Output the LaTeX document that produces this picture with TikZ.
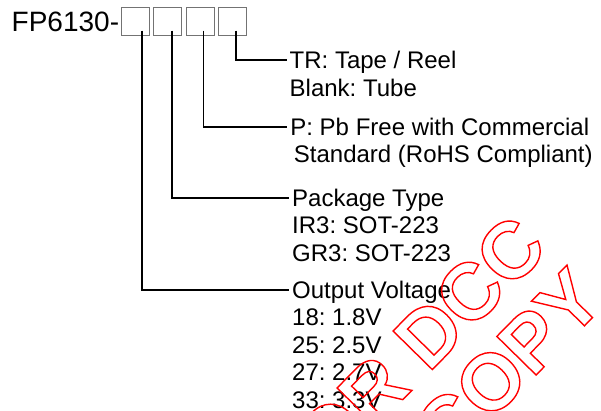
\documentclass[tikz,border=0pt]{standalone}
\usepackage{fontspec}
\setmainfont{Liberation Sans}
\usetikzlibrary{positioning}
\newcommand{\hollow}[1]{\special{pdf:literal direct 1 Tr 1.4 w}#1\special{pdf:literal direct 0 Tr}}
\tikzset{%
digit/.style={draw=black!55,line width=0.9pt,rectangle,minimum size=28pt,inner sep=0},
partno/.style={font=\fontsize{28}{32}\selectfont,inner sep=0,anchor=base west},
lead/.style={line width=1.6pt,shorten >=3pt},
field/.style={font=\fontsize{24}{27.4}\selectfont,inner sep=0,text height=17.2pt,text depth=0pt,anchor=west},
option/.style={font=\fontsize{24}{27.4}\selectfont,inner sep=0,below=27.4pt of #1,anchor=base west},
stamp/.style={font=\fontsize{80}{78}\selectfont\bfseries,text=red,inner sep=0,anchor=base west}
}
\frenchspacing
\begin{document}
\begin{tikzpicture}[x=1pt,y=1pt]
  \useasboundingbox (0,0) rectangle (601,-410);

  \node[partno] (fp) at (11.5,-31) {FP6130-};
  \node[digit] (b1) at (135.8,-21.2) {};
  \node[digit,right=3.2pt of b1] (b2) {};
  \node[digit,right=3.2pt of b2] (b3) {};
  \node[digit,right=3.2pt of b3] (b4) {};

  \node[field] (tr) at (289.5,-60) {TR: Tape / Reel};
  \node[option=tr.base west] (blank) {Blank: Tube};

  \node[field] (pb) at (290.2,-126.7) {P: Pb Free with Commercial};
  \node[option=pb.base west,xshift=3.5pt] (std) {Standard (RoHS Compliant)};

  \node[field] (pkg) at (292,-197.7) {Package Type};
  \node[option=pkg.base west] (ir3) {IR3: SOT-223};
  \node[option=ir3.base west] (gr3) {GR3: SOT-223};

  \node[field] (vout) at (292,-289.8) {Output Voltage};
  \node[option=vout.base west] (v18) {18: 1.8V};
  \node[option=v18.base west] (v25) {25: 2.5V};
  \node[option=v25.base west] (v27) {27: 2.7V};
  \node[option=v27.base west] (v33) {33: 3.3V};

  \draw[lead] ([xshift=3.9pt,yshift=5pt]b4.south) |- (tr.west);
  \draw[lead] ([xshift=3.3pt,yshift=5pt]b3.south) |- (pb.west);
  \draw[lead] ([xshift=3.8pt,yshift=5pt]b2.south) |- (pkg.west);
  \draw[lead] ([xshift=5.9pt,yshift=5pt]b1.south) |- (vout.west);

  \begin{scope}
    \clip (0,0) rectangle (601,-410);
    \begin{scope}[shift={(428.5,-373.5)},rotate=45.5,transform shape]
      \node[stamp] (forline) at (-191.1,0) {\hollow{FOR DCC}};
      \node[stamp] (copyline) at (-51.2,-77.8) {\hollow{COPY}};
    \end{scope}
  \end{scope}
\end{tikzpicture}
\end{document}
